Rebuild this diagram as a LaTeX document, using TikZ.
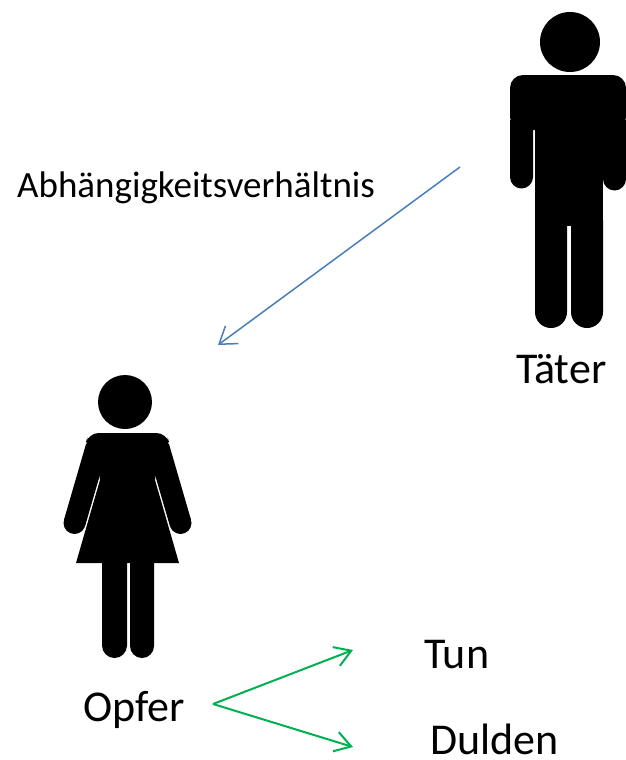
\documentclass[tikz,border=0pt]{standalone}
\usepackage{fontspec}
\setmainfont{Carlito}
\usetikzlibrary{arrows.meta}
\definecolor{relblue}{HTML}{4A7EBB}
\definecolor{actgreen}{HTML}{00B050}
\tikzset{
  fig/.style={fill=black},
  limb/.style={draw=black,line width=22pt},
  biglabel/.style={anchor=base west,inner sep=0pt,font=\fontsize{44}{52}\selectfont},
  smalllabel/.style={anchor=base west,inner sep=0pt,font=\fontsize{37}{44}\selectfont},
  relarrow/.style={draw=relblue,line width=1.5pt,-{Straight Barb[length=16pt,width=22pt]}},
  actarrow/.style={draw=actgreen,line width=2pt,-{Straight Barb[length=16pt,width=20pt]}},
}
\begin{document}
\begin{tikzpicture}[x=1pt,y=-1pt]
\useasboundingbox (0,0) rectangle (626,760);
% ---------- male figure (Taeter)
\fill[fig] (570,42) circle (30);
\fill[fig,rounded corners=13pt] (510,130) -- (510,75) -- (626,75) -- (626,130) -- cycle;
\fill[fig] (510,120) -- (510,177) arc[start angle=180,end angle=0,radius=11.5] -- (533,120) -- cycle;
\fill[fig] (603,120) -- (603,179) arc[start angle=180,end angle=0,radius=11.5] -- (626,120) -- cycle;
\fill[fig] (535,120) rectangle (603,226);
\fill[fig] (535,220) -- (535,312) arc[start angle=180,end angle=0,radius=16] -- (567,220) -- cycle;
\fill[fig] (571,220) -- (571,312) arc[start angle=180,end angle=0,radius=16] -- (603,220) -- cycle;
% ---------- female figure (Opfer)
\fill[fig] (125,402) circle (27);
\fill[fig,rounded corners=10pt] (84.6,447) -- (88.6,433) -- (166.4,433) -- (170.4,447) -- (160,470) -- (95,470) -- cycle;
\draw[limb] (96.6,447) -- (74.5,523);
\fill[fig] (74.5,523) circle (11);
\draw[limb] (158.4,447) -- (180.5,523);
\fill[fig] (180.5,523) circle (11);
\fill[fig] (100,480) -- (76,563) -- (179,563) -- (155,480) -- (157,465) -- (98,465) -- cycle;
\fill[fig] (102,560) -- (102,645.5) arc[start angle=180,end angle=0,radius=12.5] -- (127,560) -- cycle;
\fill[fig] (130,560) -- (130,646) arc[start angle=180,end angle=0,radius=12] -- (154,560) -- cycle;
% ---------- labels
\node[smalllabel] (rel) at (17,197) {Abhängigkeitsverhältnis};
\node[biglabel] (taeter) at (516,383) {Täter};
\node[biglabel] (opfer) at (83,721) {Opfer};
\node[biglabel] (tun) at (424,668) {Tun};
\node[biglabel] (dulden) at (430,754) {Dulden};
% ---------- arrows
\coordinate (relstart) at (460,167);
\coordinate (relend) at (218,345);
\coordinate (actstart) at (213,704);
\coordinate (tunend) at (353,650);
\coordinate (duldenend) at (353,747);
\draw[relarrow] (relstart) -- (relend);
\draw[actarrow] (actstart) -- (tunend);
\draw[actarrow] (actstart) -- (duldenend);
\end{tikzpicture}
\end{document}
